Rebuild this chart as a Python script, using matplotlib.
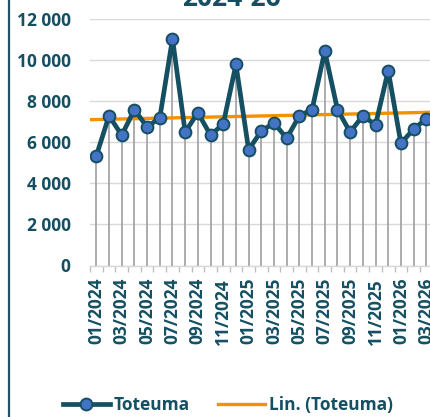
import numpy as np
import matplotlib
matplotlib.use("Agg")
import matplotlib.pyplot as plt
from matplotlib.lines import Line2D

# monthly values, 01/2024 .. 03/2026
months = ["01/2024", "02/2024", "03/2024", "04/2024", "05/2024", "06/2024",
          "07/2024", "08/2024", "09/2024", "10/2024", "11/2024", "12/2024",
          "01/2025", "02/2025", "03/2025", "04/2025", "05/2025", "06/2025",
          "07/2025", "08/2025", "09/2025", "10/2025", "11/2025", "12/2025",
          "01/2026", "02/2026", "03/2026"]
toteuma = [5350, 7300, 6350, 7600, 6750, 7200, 11050, 6500, 7450, 6350,
           6900, 9800, 5650, 6550, 6950, 6200, 7300, 7600, 10450, 7600,
           6500, 7300, 6850, 9500, 5950, 6650, 7150]
y_ticks = [0, 2000, 4000, 6000, 8000, 10000, 12000]
title = "2024-26"

TEAL = "#154F62"
MARKER = "#4472C4"
ORANGE = "#F39200"
FONT = "Open Sans"
FS = 12.5

W, H = 430, 417
fig = plt.figure(figsize=(W / 100, H / 100), dpi=100)

# plot area in pixels: left 90, top 19.3, bottom 265.5, 12.69 px per month
left, top, bottom, step = 90, 19.3, 265.5, 12.69
ax = fig.add_axes([left / W, 1 - bottom / H, (W - left) / W, (bottom - top) / H])

x = np.arange(len(toteuma))
vals = np.array(toteuma)

# drop lines
ax.vlines(x, 0, vals, color="#A6A6A6", lw=1.3, zorder=2)

ax.plot(x, vals, color=TEAL, lw=3.4, marker="o", ms=8.5,
        mfc=MARKER, mec=TEAL, mew=1.4, zorder=4, label="Toteuma")

# linear trend
k, b = np.polyfit(x, vals, 1)
xt = np.array([-0.5, 40])
ax.plot(xt, k * xt + b, color=ORANGE, lw=2.4, zorder=3, label="Lin. (Toteuma)")

ax.set_yticks(y_ticks)
ax.set_yticklabels([f"{v:,}".replace(",", " ") for v in y_ticks])
ax.grid(axis="y", color="#D9D9D9", lw=1.0, zorder=0)
ax.set_axisbelow(True)
for s in ["top", "right", "left"]:
    ax.spines[s].set_visible(False)
ax.spines["bottom"].set_color("#D9D9D9")
ax.spines["bottom"].set_linewidth(1.0)

ax.set_xticks(x[::2])
ax.set_xticklabels(months[::2], rotation=90)
ax.set_xticks(np.arange(-0.5, len(x) + 0.5, 1), minor=True)
ax.tick_params(axis="x", which="major", length=0, pad=9)
ax.tick_params(axis="x", which="minor", length=4, color="#BFBFBF", width=1)
ax.tick_params(axis="y", length=0, pad=14)
for lab in ax.get_xticklabels() + ax.get_yticklabels():
    lab.set_fontfamily(FONT)
    lab.set_fontweight("bold")
    lab.set_fontsize(FS)
    lab.set_color(TEAL)

ax.set_xlim(-0.5, -0.5 + (W - left) / step)
ax.set_ylim(0, 12000)

# chart title, mostly cropped away at the top
fig.text(231 / W, 1 - 6 / H, title, ha="center", va="baseline",
         fontsize=19, fontweight="bold", family=FONT, color=TEAL)

# left chart border
fig.add_artist(Line2D([8.5 / W, 8.5 / W], [0, 1], color="#1E5466", lw=1.6))

handles, labels = ax.get_legend_handles_labels()
leg = fig.legend(handles, labels, loc="center", bbox_to_anchor=(228 / W, 1 - 405 / H),
                 ncol=2, frameon=False, handlelength=2.7, handletextpad=0.25,
                 columnspacing=1.6,
                 prop={"family": FONT, "weight": "bold", "size": FS})
for t in leg.get_texts():
    t.set_color(TEAL)

fig.savefig("out.png", dpi=100)
